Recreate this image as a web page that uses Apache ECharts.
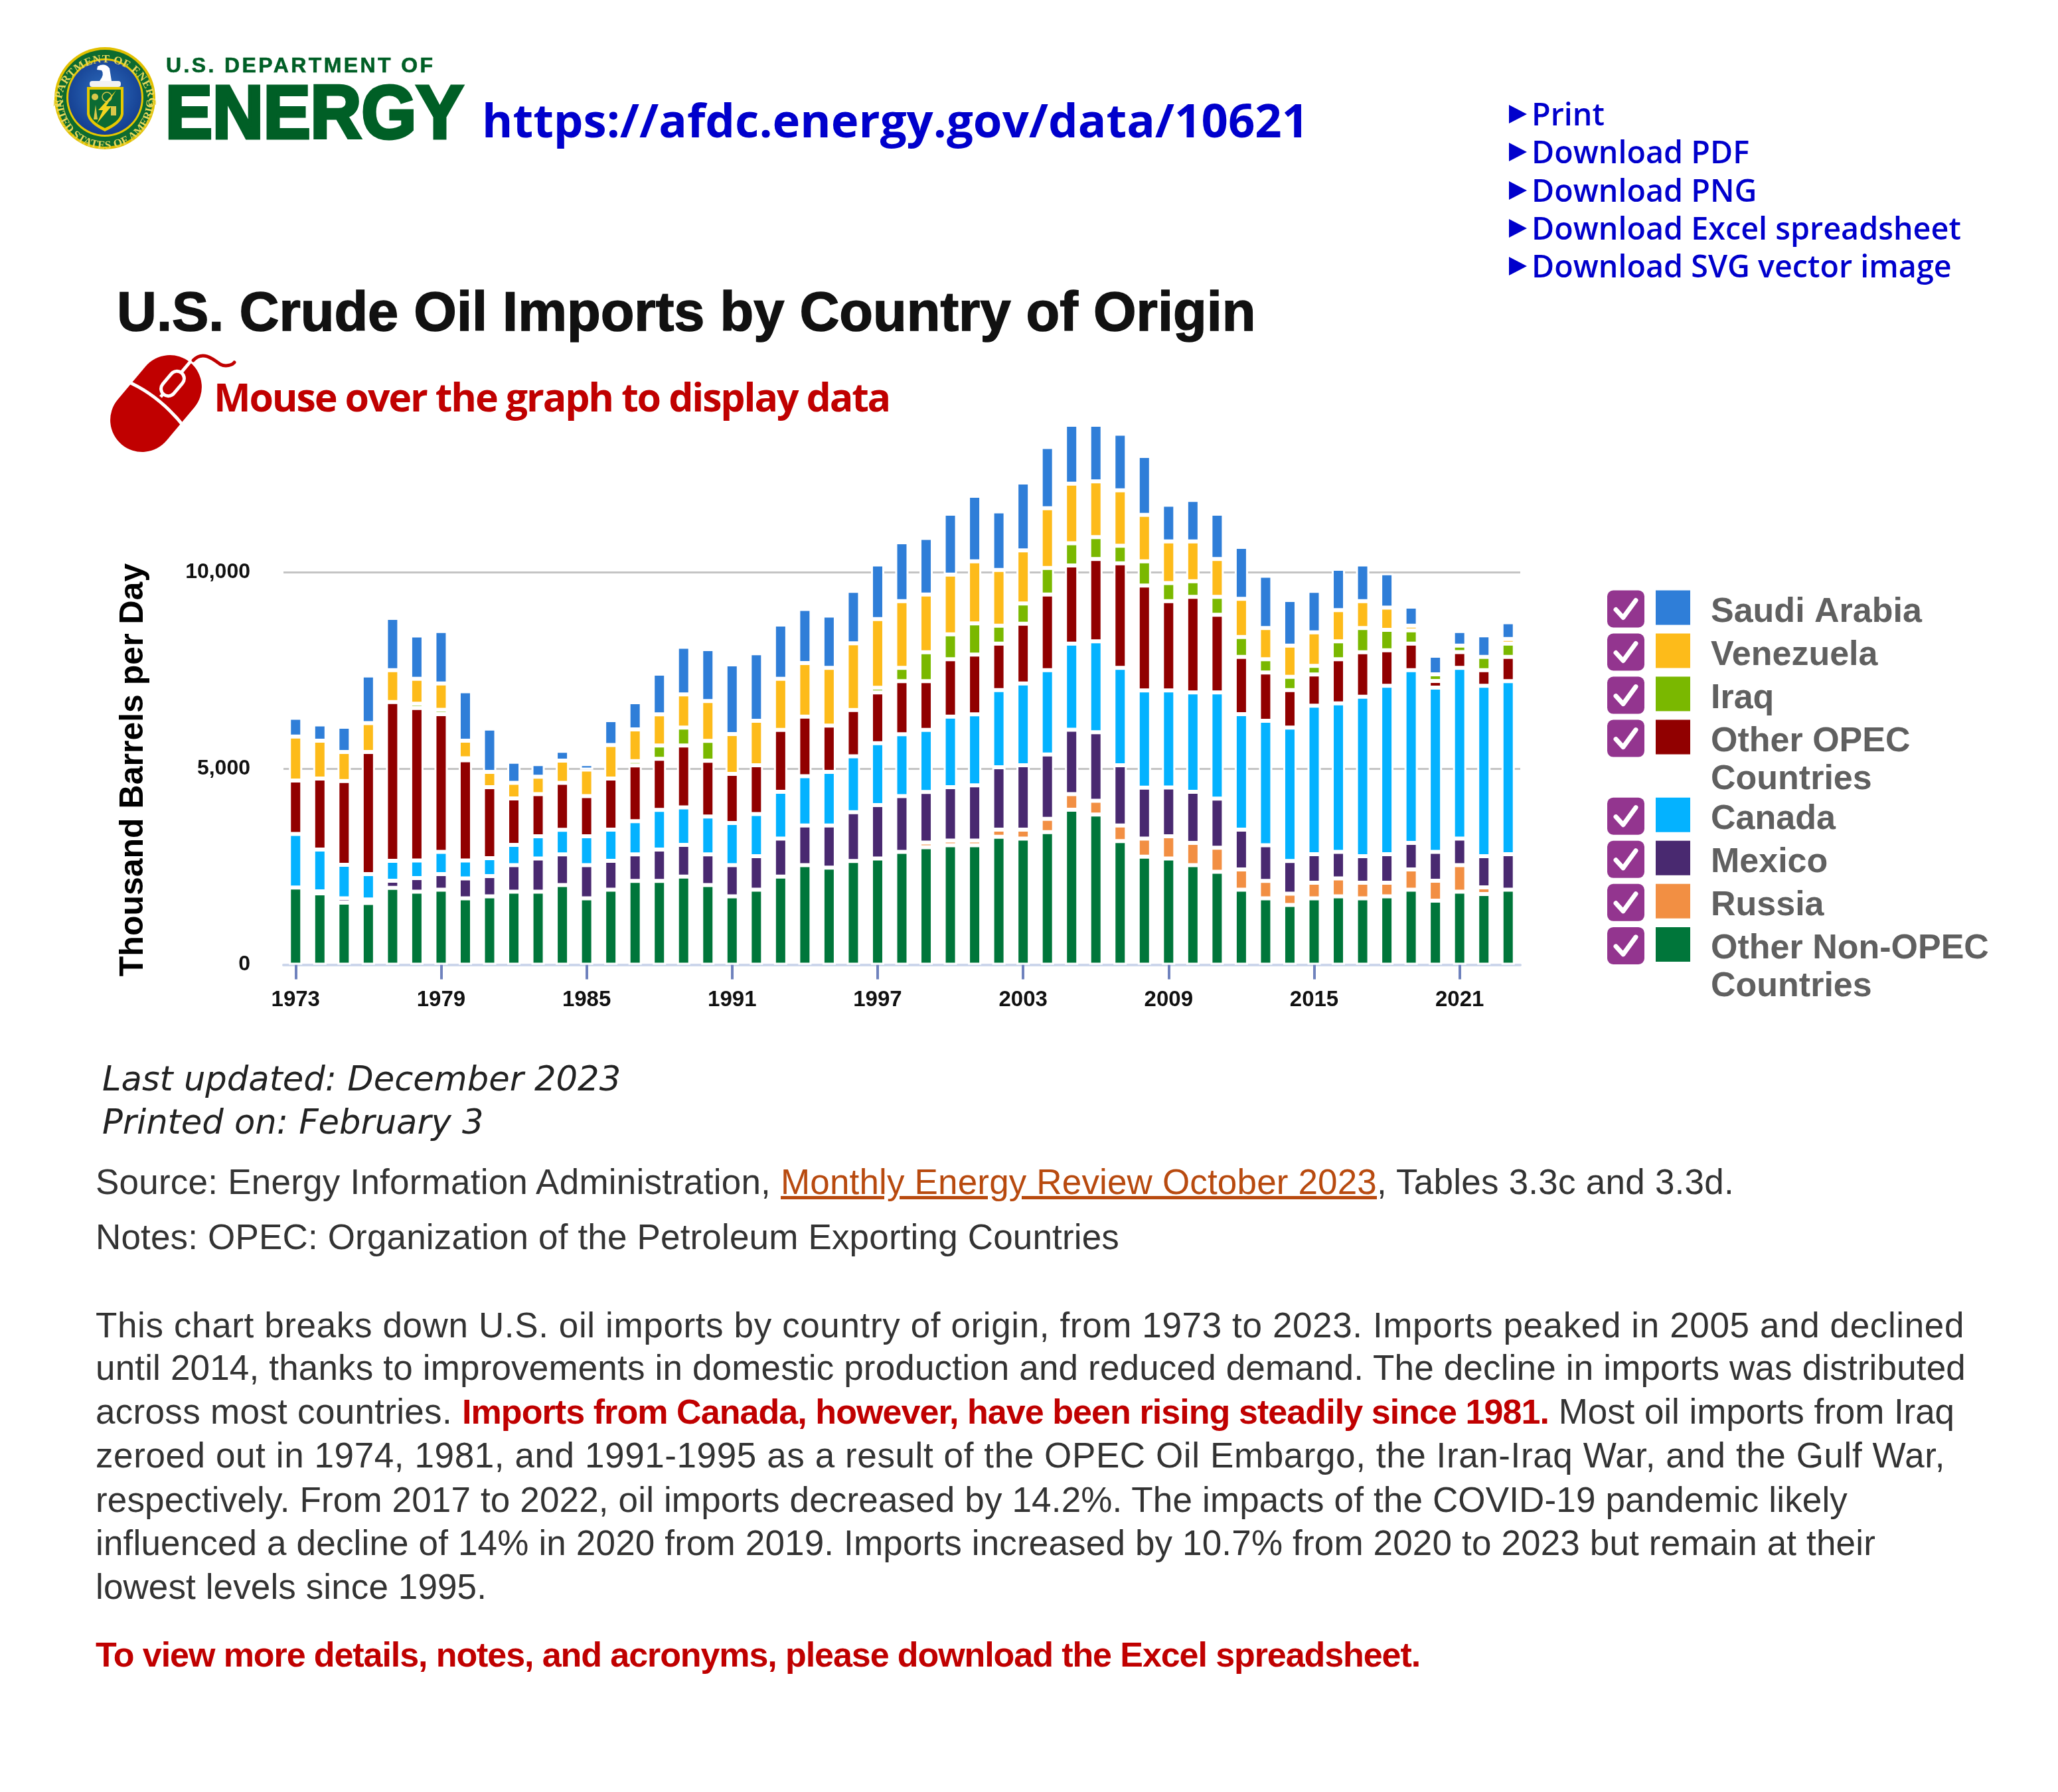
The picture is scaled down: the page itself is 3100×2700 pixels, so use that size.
<!DOCTYPE html>
<html><head><meta charset="utf-8">
<script src="https://cdn.jsdelivr.net/npm/echarts@6/dist/echarts.min.js"></script>
<style>
html,body{margin:0;padding:0;background:#fff;width:3100px;height:2700px;overflow:hidden}
#chart{position:absolute;left:0;top:0;width:3100px;height:2700px}
.t{position:absolute;white-space:nowrap;line-height:1;font-family:"Liberation Sans",Arial,sans-serif}
.b{font-size:53px;color:#333;left:144px}
.lnk{font-family:"Open Sans",sans-serif;font-weight:600;font-size:46.7px;color:#0000cc;left:2307px}
.red{color:#c00000;font-weight:bold}
.up{color:#b84a0f;text-decoration:underline}
.it{font-family:"DejaVu Sans",sans-serif;font-style:oblique;font-size:51.2px;color:#222;left:154px}
svg{position:absolute;left:0;top:0}
</style></head><body>
<div id="chart"></div>
<svg width="3100" height="2700" viewBox="0 0 3100 2700" style="pointer-events:none">
<defs>
<radialGradient id="bl" cx="50%" cy="45%" r="60%"><stop offset="0" stop-color="#2f6fc0"/><stop offset="1" stop-color="#123a8c"/></radialGradient>
<path id="arcT" d="M 92 160 A 66 66 0 1 1 224 160"/>
<path id="arcB" d="M 84 150 A 74 74 0 0 0 232 150"/>
</defs>
<ellipse cx="158" cy="148" rx="76" ry="77" fill="#e2c000"/>
<ellipse cx="158" cy="148" rx="72" ry="73" fill="#0d6b2f"/>
<ellipse cx="158" cy="147" rx="58" ry="59" fill="#e6c800"/>
<ellipse cx="158" cy="147" rx="55" ry="56" fill="url(#bl)"/>
<text font-family="Liberation Serif,serif" font-weight="bold" font-size="17" fill="#e8d85a" letter-spacing="0.6"><textPath href="#arcT" startOffset="50%" text-anchor="middle">DEPARTMENT OF ENERGY</textPath></text>
<text font-family="Liberation Serif,serif" font-weight="bold" font-size="17" fill="#e8d85a" letter-spacing="0.4"><textPath href="#arcB" startOffset="50%" text-anchor="middle">UNITED STATES OF AMERICA</textPath></text>
<path d="M131 131 H186 V172 Q184 186 158 198 Q133 186 131 172 Z" fill="#e6c800"/>
<path d="M135 135 H182 V171 Q180 183 158 193 Q137 183 135 171 Z" fill="#0b6b33"/>
<path d="M175 136 L160 160 L168 160 L146 186 L155 166 L148 166 Z" fill="#f2d520"/>
<rect x="135" y="122" width="47" height="9" rx="4" fill="#f2f2f2"/>
<path d="M147 100 Q158 94 165 103 L168 122 L150 122 Q158 112 153 106 L146 105 Z" fill="#fff"/>
<circle cx="143" cy="146" r="5" fill="#d9c84a"/><circle cx="161" cy="146" r="7" fill="none" stroke="#d9c84a" stroke-width="1.5"/>
<path d="M141 180 L144 158 L147 180 Z" fill="#d9c84a"/><rect x="167" y="160" width="8" height="14" fill="#d9c84a"/>
<text x="250" y="109" font-family="Liberation Sans,Arial,sans-serif" font-weight="bold" font-size="32" fill="#005f26" stroke="#005f26" stroke-width="0.6" textLength="402" lengthAdjust="spacing">U.S. DEPARTMENT OF</text>
<text x="249" y="208" font-family="Liberation Sans,Arial,sans-serif" font-weight="bold" font-size="114" fill="#005f26" stroke="#005f26" stroke-width="5" textLength="449" lengthAdjust="spacingAndGlyphs">ENERGY</text>
<g fill="#c00000">
<g transform="rotate(40 235 608)"><rect x="187" y="527.5" width="96" height="161" rx="48"/></g>
<g stroke="#fff" stroke-width="5" fill="none" stroke-linecap="butt">
<path d="M190 574 Q240 595 279 645"/>
<path d="M242 598 L290 541"/>
<g transform="rotate(40 260 578)"><rect x="249" y="557" width="22" height="42" rx="11" fill="#c00000"/></g>
</g>
<path d="M291 543 C305 528 320 540 332 549 C340 553 350 550 353 546" fill="none" stroke="#c00000" stroke-width="5" stroke-linecap="round"/>
</g>
<g fill="#0000cc">
<path d="M2273 158 L2300 172 L2273 186 Z"/><path d="M2273 215 L2300 229 L2273 243 Z"/><path d="M2273 273 L2300 287 L2273 301 Z"/><path d="M2273 330 L2300 344 L2273 358 Z"/><path d="M2273 387 L2300 401 L2273 415 Z"/>
</g>
</svg>
<div class="t" style="left:726px;top:145px;font-family:'Open Sans',sans-serif;font-weight:700;font-size:70.7px;color:#0000cc">https://afdc.energy.gov/data/10621</div>
<div class="t lnk" style="top:148px">Print</div>
<div class="t lnk" style="top:205px">Download PDF</div>
<div class="t lnk" style="top:263px">Download PNG</div>
<div class="t lnk" style="top:320px">Download Excel spreadsheet</div>
<div class="t lnk" style="top:377px">Download SVG vector image</div>
<div class="t red" style="left:322px;top:568px;font-family:'Open Sans',sans-serif;font-weight:700;font-size:59px;letter-spacing:-2.15px">Mouse over the graph to display data</div>
<div class="t it" style="top:1600px">Last updated: December 2023</div>
<div class="t it" style="top:1665px">Printed on: February 3</div>
<div class="t b" style="top:1754px"><span class="f" data-w="1032">Source: Energy Information Administration, </span><span class="f up" data-w="898">Monthly Energy Review October 2023</span><span class="f" data-w="538">, Tables 3.3c and 3.3d.</span></div>
<div class="t b" style="top:1837px"><span class="f" data-w="1542">Notes: OPEC: Organization of the Petroleum Exporting Countries</span></div>
<div class="t b" style="top:1970px"><span class="f" data-w="2815">This chart breaks down U.S. oil imports by country of origin, from 1973 to 2023. Imports peaked in 2005 and declined</span></div>
<div class="t b" style="top:2034px"><span class="f" data-w="2817">until 2014, thanks to improvements in domestic production and reduced demand. The decline in imports was distributed</span></div>
<div class="t b" style="top:2100px"><span class="f" data-w="552">across most countries. </span><span class="f red" style="font-size:52px" data-w="1637">Imports from Canada, however, have been rising steadily since 1981.</span><span class="f" data-w="611"> Most oil imports from Iraq</span></div>
<div class="t b" style="top:2166px"><span class="f" data-w="2786">zeroed out in 1974, 1981, and 1991-1995 as a result of the OPEC Oil Embargo, the Iran-Iraq War, and the Gulf War,</span></div>
<div class="t b" style="top:2233px"><span class="f" data-w="2639">respectively. From 2017 to 2022, oil imports decreased by 14.2%. The impacts of the COVID-19 pandemic likely</span></div>
<div class="t b" style="top:2298px"><span class="f" data-w="2681">influenced a decline of 14% in 2020 from 2019. Imports increased by 10.7% from 2020 to 2023 but remain at their</span></div>
<div class="t b" style="top:2364px"><span class="f" data-w="589">lowest levels since 1995.</span></div>
<div class="t b" style="top:2466px"><span class="f red" style="font-size:52px" data-w="1995">To view more details, notes, and acronyms, please download the Excel spreadsheet.</span></div>
<script>
document.querySelectorAll('.f').forEach(el=>{
  const w = el.getBoundingClientRect().width;
  el.style.letterSpacing = ((+el.dataset.w - w)/el.textContent.length)+'px';
});
const years = ['1973','1974','1975','1976','1977','1978','1979','1980','1981','1982','1983','1984','1985','1986','1987','1988','1989','1990','1991','1992','1993','1994','1995','1996','1997','1998','1999','2000','2001','2002','2003','2004','2005','2006','2007','2008','2009','2010','2011','2012','2013','2014','2015','2016','2017','2018','2019','2020','2021','2022','2023'];
const otherNonOpec = [1968,1819,1581,1571,1959,1859,1909,1690,1740,1859,1859,2028,1690,1909,2137,2137,2247,2028,1740,1909,2247,2535,2475,2644,2704,2873,2992,3042,3042,3261,3211,3380,3947,3827,3151,2754,2704,2535,2366,1909,1690,1521,1690,1740,1690,1740,1909,1631,1859,1800,1909];
const russia = [0,0,0,0,0,0,0,0,0,0,0,0,0,0,0,0,0,0,0,0,0,0,0,0,0,0,119,119,119,179,229,338,398,348,398,457,567,567,616,517,447,288,398,457,398,348,517,507,676,169,0];
const mexico = [0,50,109,90,179,348,398,507,517,676,845,785,845,736,676,795,805,785,795,855,964,1014,1074,1243,1362,1421,1292,1362,1411,1590,1640,1640,1640,1749,1531,1302,1243,1302,1252,1014,905,835,726,676,676,726,676,736,676,795,905];
const canada = [1362,1064,855,646,507,447,567,457,457,517,567,626,736,795,845,1014,954,964,1074,1074,1193,1252,1362,1421,1580,1580,1580,1799,1809,1968,2087,2147,2197,2316,2485,2475,2475,2535,2704,2942,3171,3399,3787,3787,4065,4294,4403,4185,4354,4344,4413];
const otherOpec = [1362,1809,2137,3111,4046,3887,3509,2555,1809,1183,1074,1193,1024,1302,1421,1302,1580,1421,1252,1243,1580,1521,1183,1183,1292,1352,1243,1461,1521,1183,1521,1928,1988,2097,2664,2674,2276,2435,1978,1461,1233,954,795,1123,1133,905,676,169,398,398,616];
const iraq = [0,0,0,0,0,109,109,50,0,0,0,0,0,0,109,338,457,507,0,0,0,0,0,0,119,338,736,636,795,457,517,676,567,557,447,616,457,398,457,507,338,338,219,457,616,517,338,169,169,338,338];
const venezuela = [1123,964,736,736,815,636,676,447,388,398,447,567,676,855,805,795,845,1014,1014,1133,1302,1362,1471,1700,1749,1700,1471,1521,1580,1421,1352,1521,1521,1421,1411,1183,1064,1014,964,974,795,795,855,795,686,567,119,0,0,0,119];
const saudiArabia = [477,417,646,1213,1332,1103,1332,1262,1103,537,318,249,139,636,696,1034,1213,1322,1779,1720,1382,1382,1332,1332,1392,1501,1441,1551,1670,1491,1730,1561,1501,1441,1441,1501,934,1054,1153,1322,1332,1163,1054,1054,934,875,487,477,368,547,427];

const seriesNames = ['Other Non-OPEC Countries','Russia','Mexico','Canada','Other OPEC Countries','Iraq','Venezuela','Saudi Arabia'];
const seriesValues = [otherNonOpec,russia,mexico,canada,otherOpec,iraq,venezuela,saudiArabia];
const seriesColors = ['#00763a','#f28f43','#492970','#04b2ff','#910000','#7ab800','#fdbb1a','#2f7ed8'];
const legendLabels = [['Saudi Arabia'],['Venezuela'],['Iraq'],['Other OPEC','Countries'],['Canada'],['Mexico'],['Russia'],['Other Non-OPEC','Countries']];
const legendColors = seriesColors.slice().reverse();
const yTicks = {interval:5000,max:15000};

const legendTops = [889.5,954.5,1019.6,1084.6,1201.7,1266.8,1331.8,1396.9];
const graphic = [];
legendLabels.forEach((lines,i)=>{
  const y = legendTops[i];
  graphic.push({type:'rect',x:2421,y:y,shape:{x:0,y:0,width:56,height:56,r:9},style:{fill:'#93358f'}});
  graphic.push({type:'polyline',x:2421,y:y,shape:{points:[[13,29],[24,41],[43,15]]},style:{stroke:'#fff',lineWidth:7,fill:'none',lineCap:'round',lineJoin:'round'}});
  graphic.push({type:'rect',x:2494,y:y,shape:{x:0,y:0,width:52,height:52},style:{fill:legendColors[i]}});
  lines.forEach((s,j)=>graphic.push({type:'text',x:2577,y:y+33+j*57,style:{text:s,fill:'#606060',font:'bold 52px "Liberation Sans",Arial,sans-serif',verticalAlign:'middle'}}));
});
graphic.push({type:'text',x:201,y:1160,rotation:Math.PI/2,style:{text:'Thousand Barrels per Day',fill:'#000',font:'bold 50px "Liberation Sans",Arial,sans-serif',align:'center',verticalAlign:'middle'}});

const chart = echarts.init(document.getElementById('chart'),null,{renderer:'canvas'});
chart.setOption({
  animation:false,
  backgroundColor:'transparent',
  title:{text:'U.S. Crude Oil Imports by Country of Origin',left:176,top:434,padding:0,textStyle:{fontFamily:'"Liberation Sans",Arial,sans-serif',fontSize:83,fontWeight:'bold',color:'#111',textBorderColor:'#111',textBorderWidth:1.5}},
  grid:{left:427,right:810,top:566.5,bottom:1246.5,containLabel:false},
  xAxis:[
    {type:'category',data:years,position:'bottom',axisLine:{onZero:false,lineStyle:{color:'#ccd6eb',width:4}},axisTick:{show:false},
     axisLabel:{interval:5,margin:37,fontSize:33,fontWeight:'bold',fontFamily:'"Liberation Sans",Arial,sans-serif',color:'#111'}},
    {type:'category',data:years,position:'bottom',offset:11,axisLine:{show:false},axisTick:{show:true,alignWithLabel:true,interval:5,length:22,lineStyle:{color:'#6f82bd',width:4}},axisLabel:{show:false}}
  ],
  yAxis:{type:'value',min:0,max:yTicks.max,interval:yTicks.interval,axisLine:{show:false},axisTick:{show:false},
    splitLine:{show:true,showMaxLine:false,lineStyle:{color:'#c4c4c4',width:3}},
    axisLabel:{margin:50,showMaxLabel:false,fontSize:32,fontWeight:'bold',fontFamily:'"Liberation Sans",Arial,sans-serif',color:'#111',formatter:v=>v===15000?'':v.toLocaleString('en-US')}},
  series:seriesNames.map((n,i)=>({name:n,type:'bar',stack:'imports',xAxisIndex:0,data:seriesValues[i],barWidth:20,
    itemStyle:{color:seriesColors[i],borderColor:'#fff',borderWidth:3}})),
  graphic:graphic
});
</script>
</body></html>
